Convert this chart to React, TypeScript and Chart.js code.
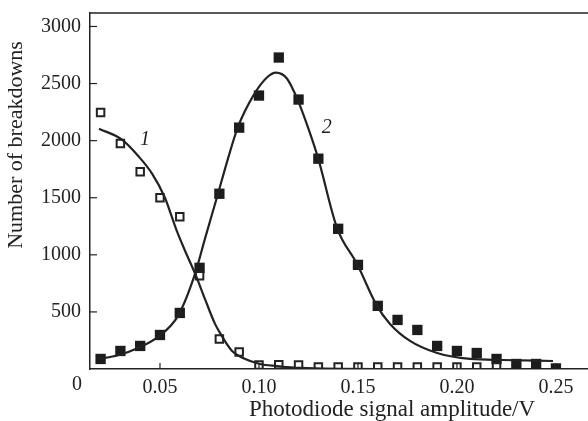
import React, { useEffect, useRef } from "react";
import { Chart, registerables } from "chart.js";

Chart.register(...registerables);

// Measured data (open squares, curve 1)
const openX = [0.02, 0.03, 0.04, 0.05, 0.06, 0.07, 0.08, 0.09, 0.10, 0.11, 0.12, 0.13, 0.14, 0.15, 0.16, 0.17, 0.18, 0.19, 0.20, 0.21, 0.22];
const openY = [2246, 1974, 1728, 1500, 1333, 816, 263, 149, 35, 38, 35, 18, 18, 18, 18, 18, 18, 18, 18, 18, 18];

// Measured data (filled squares, curve 2)
const filledX = [0.02, 0.03, 0.04, 0.05, 0.06, 0.07, 0.08, 0.09, 0.10, 0.11, 0.12, 0.13, 0.14, 0.15, 0.16, 0.17, 0.18, 0.19, 0.20, 0.21, 0.22, 0.23, 0.24, 0.25];
const filledY = [88, 158, 202, 298, 491, 886, 1535, 2114, 2395, 2728, 2360, 1842, 1228, 912, 553, 430, 342, 202, 158, 140, 88, 44, 44, 5];

// Fit curve 1
const fit1X = [0.0192, 0.0308, 0.0389, 0.046, 0.0525, 0.0581, 0.0631, 0.0682, 0.0727, 0.0778, 0.0803, 0.0864, 0.0919, 0.1005, 0.1091, 0.1207, 0.1611, 0.2253];
const fit1Y = [2105, 2009, 1868, 1711, 1500, 1228, 1018, 816, 614, 395, 316, 158, 96, 44, 26, 9, 0, 0];

// Fit curve 2
const fit2X = [0.0187, 0.0288, 0.0389, 0.049, 0.0591, 0.0677, 0.0727, 0.0793, 0.0838, 0.0894, 0.097, 0.104, 0.1086, 0.1141, 0.1197, 0.1248, 0.1298, 0.1394, 0.1495, 0.1596, 0.1662, 0.1763, 0.19, 0.2066, 0.2232, 0.2485];
const fit2Y = [88, 120, 184, 281, 465, 833, 1140, 1535, 1810, 2120, 2390, 2553, 2596, 2544, 2351, 2114, 1851, 1237, 921, 553, 395, 246, 140, 88, 79, 70];

const xTicks = [0.05, 0.1, 0.15, 0.2, 0.25];
const yTicks = [500, 1000, 1500, 2000, 2500, 3000];

const xTitle = "Photodiode signal amplitude/V";
const yTitle = "Number of breakdowns";
const curveLabels = [
  { text: "1", x: 0.0424, y: 2009 },
  { text: "2", x: 0.1343, y: 2114 },
];

const ink = "#222";
const serif = "'Liberation Serif', 'DejaVu Serif', serif";

const pts = (xs: number[], ys: number[]) => xs.map((x, i) => ({ x, y: ys[i] }));

const decorPlugin = {
  id: "decor",
  afterDraw(chart: any) {
    const ctx = chart.ctx;
    const area = chart.chartArea;
    const xs = chart.scales.x;
    const ys = chart.scales.y;
    ctx.save();
    ctx.strokeStyle = ink;
    ctx.lineWidth = 1.5;
    // top frame line
    ctx.beginPath();
    ctx.moveTo(area.left, area.top);
    ctx.lineTo(chart.width, area.top);
    ctx.stroke();
    // inward ticks
    ctx.lineWidth = 1.2;
    yTicks.forEach((v) => {
      const py = ys.getPixelForValue(v);
      ctx.beginPath();
      ctx.moveTo(area.left, py);
      ctx.lineTo(area.left + 7, py);
      ctx.stroke();
    });
    xTicks.forEach((v) => {
      const px = xs.getPixelForValue(v);
      ctx.beginPath();
      ctx.moveTo(px, area.bottom);
      ctx.lineTo(px, area.bottom - 6);
      ctx.stroke();
    });
    ctx.fillStyle = ink;
    // origin label
    ctx.font = `20px ${serif}`;
    ctx.textAlign = "center";
    ctx.textBaseline = "middle";
    ctx.fillText("0", 77, 385);
    // axis titles
    ctx.font = `23px ${serif}`;
    ctx.fillText(xTitle, 392, 410);
    ctx.font = `22px ${serif}`;
    ctx.save();
    ctx.translate(16, 145);
    ctx.rotate(-Math.PI / 2);
    ctx.fillText(yTitle, 0, 0);
    ctx.restore();
    // curve labels
    ctx.font = `italic 20px ${serif}`;
    curveLabels.forEach((l) => {
      ctx.fillText(l.text, xs.getPixelForValue(l.x), ys.getPixelForValue(l.y));
    });
    ctx.restore();
  },
};

export default function App() {
  const ref = useRef<HTMLCanvasElement | null>(null);
  useEffect(() => {
    if (!ref.current) return;
    const chart = new Chart(ref.current, {
      type: "scatter",
      data: {
        datasets: [
          {
            label: "fit1",
            data: pts(fit1X, fit1Y),
            showLine: true,
            borderColor: ink,
            borderWidth: 2.2,
            pointRadius: 0,
            cubicInterpolationMode: "monotone",
          },
          {
            label: "fit2",
            data: pts(fit2X, fit2Y),
            showLine: true,
            borderColor: ink,
            borderWidth: 2.2,
            pointRadius: 0,
            cubicInterpolationMode: "monotone",
          },
          {
            label: "1",
            data: pts(openX, openY),
            pointStyle: "rect",
            pointRadius: 5.3,
            pointBorderWidth: 2,
            pointBackgroundColor: "#fff",
            pointBorderColor: ink,
          },
          {
            label: "2",
            data: pts(filledX, filledY),
            pointStyle: "rect",
            pointRadius: 7.3,
            pointBorderWidth: 0,
            pointBackgroundColor: "#1c1c1c",
            pointBorderColor: "#1c1c1c",
          },
        ],
      } as any,
      options: {
        animation: false,
        responsive: false,
        events: [],
        layout: { autoPadding: false, padding: { top: 13, left: 0, right: 0, bottom: 0 } },
        plugins: { legend: { display: false }, tooltip: { enabled: false } },
        scales: {
          x: {
            type: "linear",
            min: 0.01465,
            max: 0.2662,
            afterBuildTicks: (s: any) => {
              s.ticks = xTicks.map((v) => ({ value: v }));
            },
            afterFit: (s: any) => {
              s.height = 52;
              s.paddingLeft = 0;
              s.paddingRight = 0;
            },
            grid: { display: false, drawTicks: false },
            border: { display: true, color: ink, width: 1.5 },
            ticks: {
              padding: 7,
              color: ink,
              font: { family: serif, size: 20 },
              callback: (v: any) => Number(v).toFixed(2),
              maxRotation: 0,
              autoSkip: false,
            },
          },
          y: {
            type: "linear",
            min: 0,
            max: 3118,
            afterBuildTicks: (s: any) => {
              s.ticks = yTicks.map((v) => ({ value: v }));
            },
            afterFit: (s: any) => {
              s.width = 90;
              s.paddingTop = 0;
              s.paddingBottom = 0;
            },
            grid: { display: false, drawTicks: false },
            border: { display: true, color: ink, width: 1.5 },
            ticks: {
              padding: 9,
              color: ink,
              font: { family: serif, size: 20 },
              callback: (v: any) => String(v),
              autoSkip: false,
            },
          },
        },
      } as any,
      plugins: [decorPlugin],
    });
    return () => chart.destroy();
  }, []);
  return (
    <div style={{ position: "fixed", left: 0, top: 0, width: 588, height: 421, background: "#fff" }}>
      <canvas ref={ref} width={588} height={421} style={{ width: 588, height: 421, display: "block" }} />
    </div>
  );
}
